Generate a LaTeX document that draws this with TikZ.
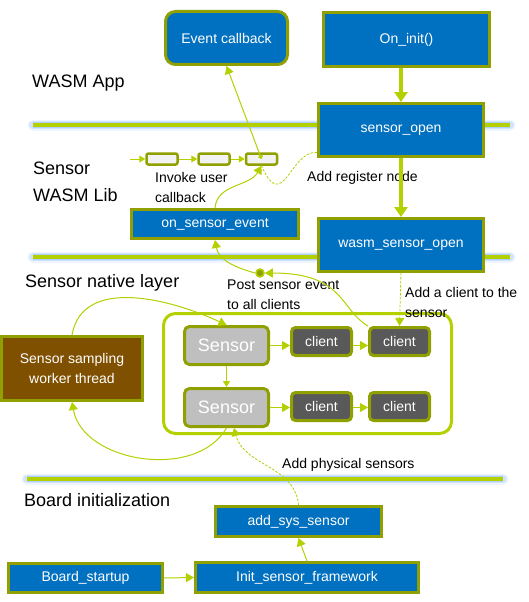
\documentclass[tikz,border=0pt]{standalone}
\usepackage{fontspec}
\setmainfont{Liberation Sans}
\usepackage{tikz}
\usetikzlibrary{positioning}
\usetikzlibrary{arrows.meta,shapes}
\usetikzlibrary{calc}
\definecolor{boxblue}{HTML}{0070C0}
\definecolor{olivebd}{HTML}{8FA000}
\definecolor{limeln}{HTML}{B4D000}
\definecolor{glowblue}{HTML}{8FBDF5}
\definecolor{qfill}{HTML}{F2F2F2}
\definecolor{sensgray}{HTML}{BFBFBF}
\definecolor{clientgray}{HTML}{595959}
\definecolor{workbrown}{HTML}{7F5000}

\begin{document}
\begin{tikzpicture}[scale=1., x=1pt, y=1pt,
 fnt/.style={font=\fontsize{14}{20}\selectfont},
 bigfnt/.style={font=\fontsize{18}{27}\selectfont},
 bluebox/.style={draw=olivebd, line width=3pt, fill=boxblue, text=white, fnt, inner sep=0pt},
 qbox/.style={draw=olivebd, line width=2.5pt, fill=qfill, rounded corners=2pt, minimum width=31pt, minimum height=11pt, inner sep=0pt},
 sensbox/.style={draw=olivebd, line width=3pt, fill=sensgray, text=white, rounded corners=5pt, bigfnt, minimum width=84pt, minimum height=38pt, inner sep=0pt},
 clbox/.style={draw=olivebd, line width=3pt, fill=clientgray, text=white, rounded corners=4pt, fnt, minimum width=60pt, minimum height=28pt, inner sep=0pt},
 lbl/.style={fnt, anchor=west, align=left, inner sep=0pt},
 layer/.style={font=\fontsize{18}{27}\selectfont, anchor=west, align=left, inner sep=0pt},
 link/.style={draw=limeln, line width=1pt, -{Triangle[length=8pt,width=9pt]}},
 smalllink/.style={draw=limeln, line width=1pt, -{Triangle[length=6pt,width=7pt]}},
 fatlink/.style={draw=limeln, line width=4pt, -{Triangle[length=10pt,width=13pt]}},
 dline/.style={draw=limeln, line width=0.8pt, dash pattern=on 2.5pt off 1.5pt},
 dlink/.style={dline, -{Triangle[length=8pt,width=9pt]}},
 glowa/.style={draw=glowblue, line width=11pt, opacity=0.15, line cap=round},
 glowb/.style={draw=glowblue, line width=8pt, opacity=0.3, line cap=round},
 glowc/.style={draw=glowblue, line width=6pt, opacity=0.5},
 sepline/.style={draw=limeln, line width=4pt}]
 \useasboundingbox (0,0) rectangle (528,-602);

 %separators
 \foreach \ya/\xa/\xb in {-125/33/510, -257/33/510, -479/27/503}{
   \path[glowa] (\xa,\ya) -- (\xb,\ya);
   \path[glowb] (\xa,\ya) -- (\xb,\ya);
   \path[glowc] (\xa,\ya) -- (\xb,\ya);
   \path[sepline] (\xa,\ya) -- (\xb,\ya);
 }

 %layers
 \node[layer] (lapp) at (32,-83) {WASM App};
 \node[layer] (llib) at (33,-181.5) {Sensor\\WASM Lib};
 \node[layer] (lnat) at (25,-283) {Sensor native layer};
 \node[layer] (lbrd) at (24,-500) {Board initialization};

 %wasm app
 \node[bluebox, rounded corners=10pt, minimum width=122pt, minimum height=53pt] (evcb) at (226.5,-38) {Event callback};
 \node[bluebox, minimum width=166pt, minimum height=54pt] (oninit) at (406.5,-39.5) {On\_init()};
 \node[bluebox, minimum width=165pt, minimum height=53pt] (sopen) at (401,-130) {sensor\_open};

 %wasm lib
 \node[qbox] (q1) at (162,-159) {};
 \node[qbox] (q2) at (214,-159) {};
 \node[qbox] (q3) at (261.5,-159) {};
 \coordinate (qin) at (130,-159);
 \node[bluebox, minimum width=167pt, minimum height=29pt] (onevt) at (215,-224) {on\_sensor\_event};
 \node[bluebox, minimum width=165pt, minimum height=53pt] (wopen) at (401,-245) {wasm\_sensor\_open};

 \node[lbl] (linv) at (155,-187) {Invoke user\\callback};
 \node[lbl] (lreg) at (307,-178) {Add register node};

 %native layer
 \node[draw=limeln, line width=3pt, rounded corners=12pt, minimum width=288pt, minimum height=120pt] (cont) at (307.5,-373.5) {};
 \node[sensbox] (sen1) at (226.5,-345.5) {Sensor};
 \node[sensbox] (sen2) at (226.5,-407.5) {Sensor};
 \node[clbox] (cl11) at (321.5,-341.5) {client};
 \node[clbox] (cl12) at (399.5,-341.5) {client};
 \node[clbox] (cl21) at (321.5,-406.5) {client};
 \node[clbox] (cl22) at (399.5,-406.5) {client};
 \node[draw=olivebd, line width=3pt, fill=workbrown, text=white, fnt, align=center, minimum width=141pt, minimum height=64pt, inner sep=0pt] (work) at (72,-368.5) {Sensor sampling\\worker thread};
 \node[circle, draw=limeln, line width=1.5pt, fill=olivebd, minimum size=8pt, inner sep=0pt] (post) at (260,-273) {};

 \node[lbl] (lpost) at (227,-295) {Post sensor event\\to all clients};
 \node[lbl] (lcli) at (405,-302) {Add a client to the\\sensor};
 \node[lbl] (lphy) at (282,-465) {Add physical sensors};

 %board
 \node[bluebox, minimum width=166pt, minimum height=30pt] (addsys) at (298.5,-521.5) {add\_sys\_sensor};
 \node[bluebox, minimum width=154pt, minimum height=29pt] (board) at (85.5,-578) {Board\_startup};
 \node[bluebox, minimum width=223pt, minimum height=30pt] (initfw) at (307,-577.5) {Init\_sensor\_framework};

 %lines
 \path[fatlink] (oninit.south -| sopen.north) -- (sopen.north);
 \path[fatlink] (sopen.south) -- (wopen.north);
 \path[smalllink] (qin) -- (q1.west);
 \path[smalllink] (q1.east) -- (q2.west);
 \path[smalllink] (q2.east) -- (q3.west);
 \path[link, {Diamond[length=5pt,width=5pt]}-{Triangle[length=8pt,width=9pt]}] (q3.center) -- (evcb.south);
 \path[link] (onevt.north) to[out=85,in=-120] (q3.south);
 \path[dline] (sopen.195) .. controls (290,-150) and (283,-215) .. (q3.south);
 \path[link] (post.west) to[out=165,in=-80] (onevt.south);
 \path[link] (cl12.north west) .. controls (340,-310) and (345,-273) .. (post.east);
 \path[dlink] (wopen.south) -- (cl12.north);
 \path[link] (work.north) to[out=80,in=155] (sen1.north);
 \path[link] (sen2.south) to[out=240,in=-80] (work.south);
 \path[link] (sen1.east) -- (sen1.east -| cl11.west);
 \path[link] (cl11.east |- sen1.east) -- (sen1.east -| cl12.west);
 \path[link] (sen2.east) -- (sen2.east -| cl21.west);
 \path[link] (cl21.east |- sen2.east) -- (sen2.east -| cl22.west);
 \path[smalllink] (sen1.south) -- (sen2.north);
 \path[dlink] (addsys.north) to[out=95,in=-75] (sen2.290);
 \path[link] (board.east) -- (initfw.west);
 \path[link] (initfw.north) -- (addsys.south);

\end{tikzpicture}
\end{document}
